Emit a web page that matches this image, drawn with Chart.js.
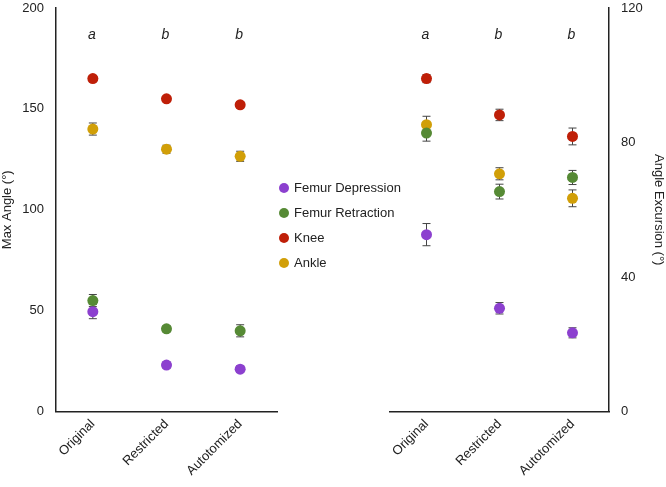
<!DOCTYPE html>
<html>
<head>
<meta charset="utf-8">
<script src="https://cdn.jsdelivr.net/npm/chart.js@4.4.1/dist/chart.umd.min.js"></script>
<style>
  body { margin: 0; background: #fff; }
  .wrap { position: relative; width: 666px; height: 487px; }
  .panel { position: absolute; top: 0; height: 487px; }
  #left { left: 0; width: 290px; }
  #right { left: 370px; width: 296px; }
  .legend { position: absolute; left: 279px; top: 175px; font: 13px "Liberation Sans", Arial, sans-serif; color: #222; }
  .legend div { height: 25px; line-height: 18px; display: flex; align-items: center; }
  .legend span.dot { width: 10px; height: 10px; border-radius: 50%; display: inline-block; margin-right: 5px; }
</style>
</head>
<body>
<div class="wrap">
  <div class="panel" id="left"><canvas id="maxChart"></canvas></div>
  <div class="panel" id="right"><canvas id="excChart"></canvas></div>
  <div class="legend" id="legend"></div>
</div>
<script>
const categories = ["Original", "Restricted", "Autotomized"];
const seriesNames = ["Femur Depression", "Femur Retraction", "Knee", "Ankle"];
const seriesColors = ["#8c40cf", "#568a35", "#bf1f08", "#d19f08"];

// Max angle (left panel)
const maxDepression = [49.5, 23, 21];
const maxRetraction = [55, 41, 40];
const maxKnee = [165, 155, 152];
const maxAnkle = [140, 130, 126.5];
const maxDepressionErr = [3.5, 1.5, 1.5];
const maxRetractionErr = [3, 1.5, 3];
const maxKneeErr = [1.5, 1.2, 1.5];
const maxAnkleErr = [3, 2, 2.5];

// Angle excursion (right panel)
const excDepression = [52.6, 30.7, 23.4];
const excRetraction = [82.8, 65.4, 69.6];
const excKnee = [99, 88.2, 81.8];
const excAnkle = [85.3, 70.7, 63.4];
const excDepressionErr = [3.3, 1.7, 1.5];
const excRetractionErr = [2.4, 2.2, 2.1];
const excKneeErr = [1.2, 1.7, 2.5];
const excAnkleErr = [2.5, 1.8, 2.5];

const groupLetters = ["a", "b", "b"];
const letterLevelMax = 186.5;
const letterLevelExc = 111.8;

const maxTicks = [0, 50, 100, 150, 200];
const excTicks = [0, 40, 80, 120];

const FONT = "'Liberation Sans', Arial, sans-serif";
Chart.defaults.font.family = FONT;
Chart.defaults.color = "#222";

// error bars, drawn under the points
const errorBars = {
  id: "errorBars",
  beforeDatasetsDraw(chart) {
    const ctx = chart.ctx;
    const y = chart.scales.y;
    ctx.save();
    ctx.strokeStyle = "#444";
    ctx.lineWidth = 1;
    chart.data.datasets.forEach((ds, i) => {
      const meta = chart.getDatasetMeta(i);
      meta.data.forEach((pt, j) => {
        const e = ds.errors[j];
        const top = y.getPixelForValue(ds.data[j] + e);
        const bot = y.getPixelForValue(ds.data[j] - e);
        ctx.beginPath();
        ctx.moveTo(pt.x, top); ctx.lineTo(pt.x, bot);
        ctx.moveTo(pt.x - 4, top); ctx.lineTo(pt.x + 4, top);
        ctx.moveTo(pt.x - 4, bot); ctx.lineTo(pt.x + 4, bot);
        ctx.stroke();
      });
    });
    ctx.restore();
  }
};

// significance letters above each group
const letters = {
  id: "letters",
  afterDatasetsDraw(chart, args, opts) {
    const ctx = chart.ctx;
    const x = chart.scales.x;
    const y = chart.scales.y;
    ctx.save();
    ctx.font = "italic 14px " + FONT;
    ctx.fillStyle = "#222";
    ctx.textAlign = "center";
    ctx.textBaseline = "middle";
    groupLetters.forEach((t, i) => {
      ctx.fillText(t, x.getPixelForValue(i) - 1, y.getPixelForValue(opts.level));
    });
    ctx.restore();
  }
};

function makeDatasets(values, errs) {
  return values.map((v, i) => ({
    label: seriesNames[i],
    data: v,
    errors: errs[i],
    showLine: false,
    pointRadius: 5.5,
    pointHoverRadius: 5.5,
    pointBorderWidth: 0,
    pointBackgroundColor: seriesColors[i],
    borderColor: seriesColors[i],
    backgroundColor: seriesColors[i]
  }));
}

function makeConfig(values, errs, side, ticks, title, level, pad) {
  return {
    type: "line",
    data: { labels: categories, datasets: makeDatasets(values, errs) },
    plugins: [errorBars, letters],
    options: {
      responsive: true,
      maintainAspectRatio: false,
      animation: false,
      layout: { padding: pad },
      plugins: {
        legend: { display: false },
        tooltip: { enabled: false },
        letters: { level: level }
      },
      scales: {
        x: {
          offset: true,
          grid: { display: false, drawTicks: false },
          border: { display: true, color: "#222", width: 1.5 },
          ticks: { font: { size: 13 }, color: "#222", maxRotation: 45, minRotation: 45, padding: 5 },
          afterFit: (s) => { s.height = 75.5; }
        },
        y: {
          position: side,
          min: ticks[0],
          max: ticks[ticks.length - 1],
          grid: { display: false, drawTicks: false },
          border: { display: true, color: "#222", width: 1.5 },
          afterBuildTicks: (s) => { s.ticks = ticks.map(v => ({ value: v })); },
          ticks: { font: { size: 13 }, color: "#222", padding: 12 },
          title: { display: true, text: title, font: { size: 13 }, color: "#222", padding: 0 },
          afterFit: (s) => {
            s.width = side === "left" ? 56 : 57;
            s.paddingTop = 8;
            s.paddingBottom = 8;
          }
        }
      }
    }
  };
}

new Chart(document.getElementById("maxChart"), makeConfig(
  [maxDepression, maxRetraction, maxKnee, maxAnkle],
  [maxDepressionErr, maxRetractionErr, maxKneeErr, maxAnkleErr],
  "left", maxTicks, "Max Angle (°)", letterLevelMax,
  { top: 0, left: 0, right: 13, bottom: 0 }
));

new Chart(document.getElementById("excChart"), makeConfig(
  [excDepression, excRetraction, excKnee, excAnkle],
  [excDepressionErr, excRetractionErr, excKneeErr, excAnkleErr],
  "right", excTicks, "Angle Excursion (°)", letterLevelExc,
  { top: 0, left: 20, right: 0, bottom: 0 }
));

// legend in the gap between the panels
const legendEl = document.getElementById("legend");
seriesNames.forEach((name, i) => {
  const row = document.createElement("div");
  const dot = document.createElement("span");
  dot.className = "dot";
  dot.style.background = seriesColors[i];
  row.appendChild(dot);
  row.appendChild(document.createTextNode(name));
  legendEl.appendChild(row);
});
</script>
</body>
</html>
